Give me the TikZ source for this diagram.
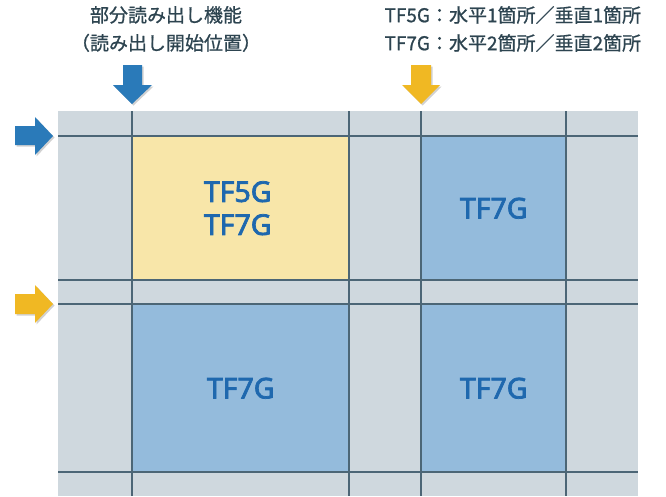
\documentclass[tikz,border=0pt]{standalone}
\usepackage{fontspec}
\newfontfamily\jp{Noto Sans CJK JP}[FakeBold=0.8]
\newfontfamily\lab{Noto Sans}[FakeBold=2.6]
\definecolor{gridbg}{HTML}{CFD8DE}
\definecolor{gridln}{HTML}{4C6676}
\definecolor{cyel}{HTML}{F8E6A9}
\definecolor{cblue}{HTML}{94BBDC}
\definecolor{ablue}{HTML}{2A7AB9}
\definecolor{ayel}{HTML}{F0B823}
\definecolor{txt}{HTML}{2D4450}
\definecolor{labc}{HTML}{1F68AE}
\tikzset{
  cellbox/.style={draw=none,inner sep=0pt,anchor=north west},
  gline/.style={draw=gridln,line width=1.6pt},
  celltext/.style={font=\lab\fontsize{28.5}{33}\selectfont,text=labc,align=center},
  toptext/.style={font=\jp\fontsize{19}{28}\selectfont,text=txt},
  arrshadow/.style={fill=black,opacity=0.18},
}
\begin{document}
\begin{tikzpicture}[x=1pt,y=-1pt]
\useasboundingbox (0,0) rectangle (666,496);
% background grid
\fill[gridbg] (58,111) rectangle (638,496);
% cells
\node[cellbox,fill=cyel,minimum width=217pt,minimum height=144pt] (c11) at (132,136) {};
\node[cellbox,fill=cblue,minimum width=145pt,minimum height=144pt] (c12) at (421,136) {};
\node[cellbox,fill=cblue,minimum width=217pt,minimum height=168pt] (c21) at (132,304) {};
\node[cellbox,fill=cblue,minimum width=145pt,minimum height=168pt] (c22) at (421,304) {};
% grid lines
\foreach \yy in {136,280,304,472} \draw[gline] (58,\yy) -- (638,\yy);
\foreach \xx in {132,349,421,566} \draw[gline] (\xx,111) -- (\xx,496);
% labels
\node[celltext] (t11) at ([xshift=-3pt]c11.center) {TF5G\\TF7G};
\node[celltext] (t12) at (c12.center) {TF7G};
\node[celltext] (t21) at (c21.center) {TF7G};
\node[celltext] (t22) at (c22.center) {TF7G};
% arrow shadows
\begin{scope}[shift={(1.5,1.5)}]
\fill[arrshadow] (123,65) -- (142,65) -- (142,85) -- (152,85) -- (132,104) -- (113,85) -- (123,85) -- cycle;
\fill[arrshadow] (411,65) -- (431,65) -- (431,85) -- (440,85) -- (421,104) -- (402,85) -- (411,85) -- cycle;
\fill[arrshadow] (15,126) -- (35,126) -- (35,117) -- (53,136) -- (35,155) -- (35,145) -- (15,145) -- cycle;
\fill[arrshadow] (15,294) -- (35,294) -- (35,285) -- (53,304) -- (35,323) -- (35,314) -- (15,314) -- cycle;
\end{scope}
% arrows
\fill[ablue] (123,65) -- (142,65) -- (142,85) -- (152,85) -- (132,104) -- (113,85) -- (123,85) -- cycle;
\fill[ayel] (411,65) -- (431,65) -- (431,85) -- (440,85) -- (421,104) -- (402,85) -- (411,85) -- cycle;
\fill[ablue] (15,126) -- (35,126) -- (35,117) -- (53,136) -- (35,155) -- (35,145) -- (15,145) -- cycle;
\fill[ayel] (15,294) -- (35,294) -- (35,285) -- (53,304) -- (35,323) -- (35,314) -- (15,314) -- cycle;
% top texts
\node[toptext,align=center] (lt) at (166,29) {部分読み出し機能\\（読み出し開始位置）};
\node[toptext,align=left,anchor=west] (rt) at (381,29) {TF5G：水平1箇所／垂直1箇所\\TF7G：水平2箇所／垂直2箇所};
\end{tikzpicture}
\end{document}
